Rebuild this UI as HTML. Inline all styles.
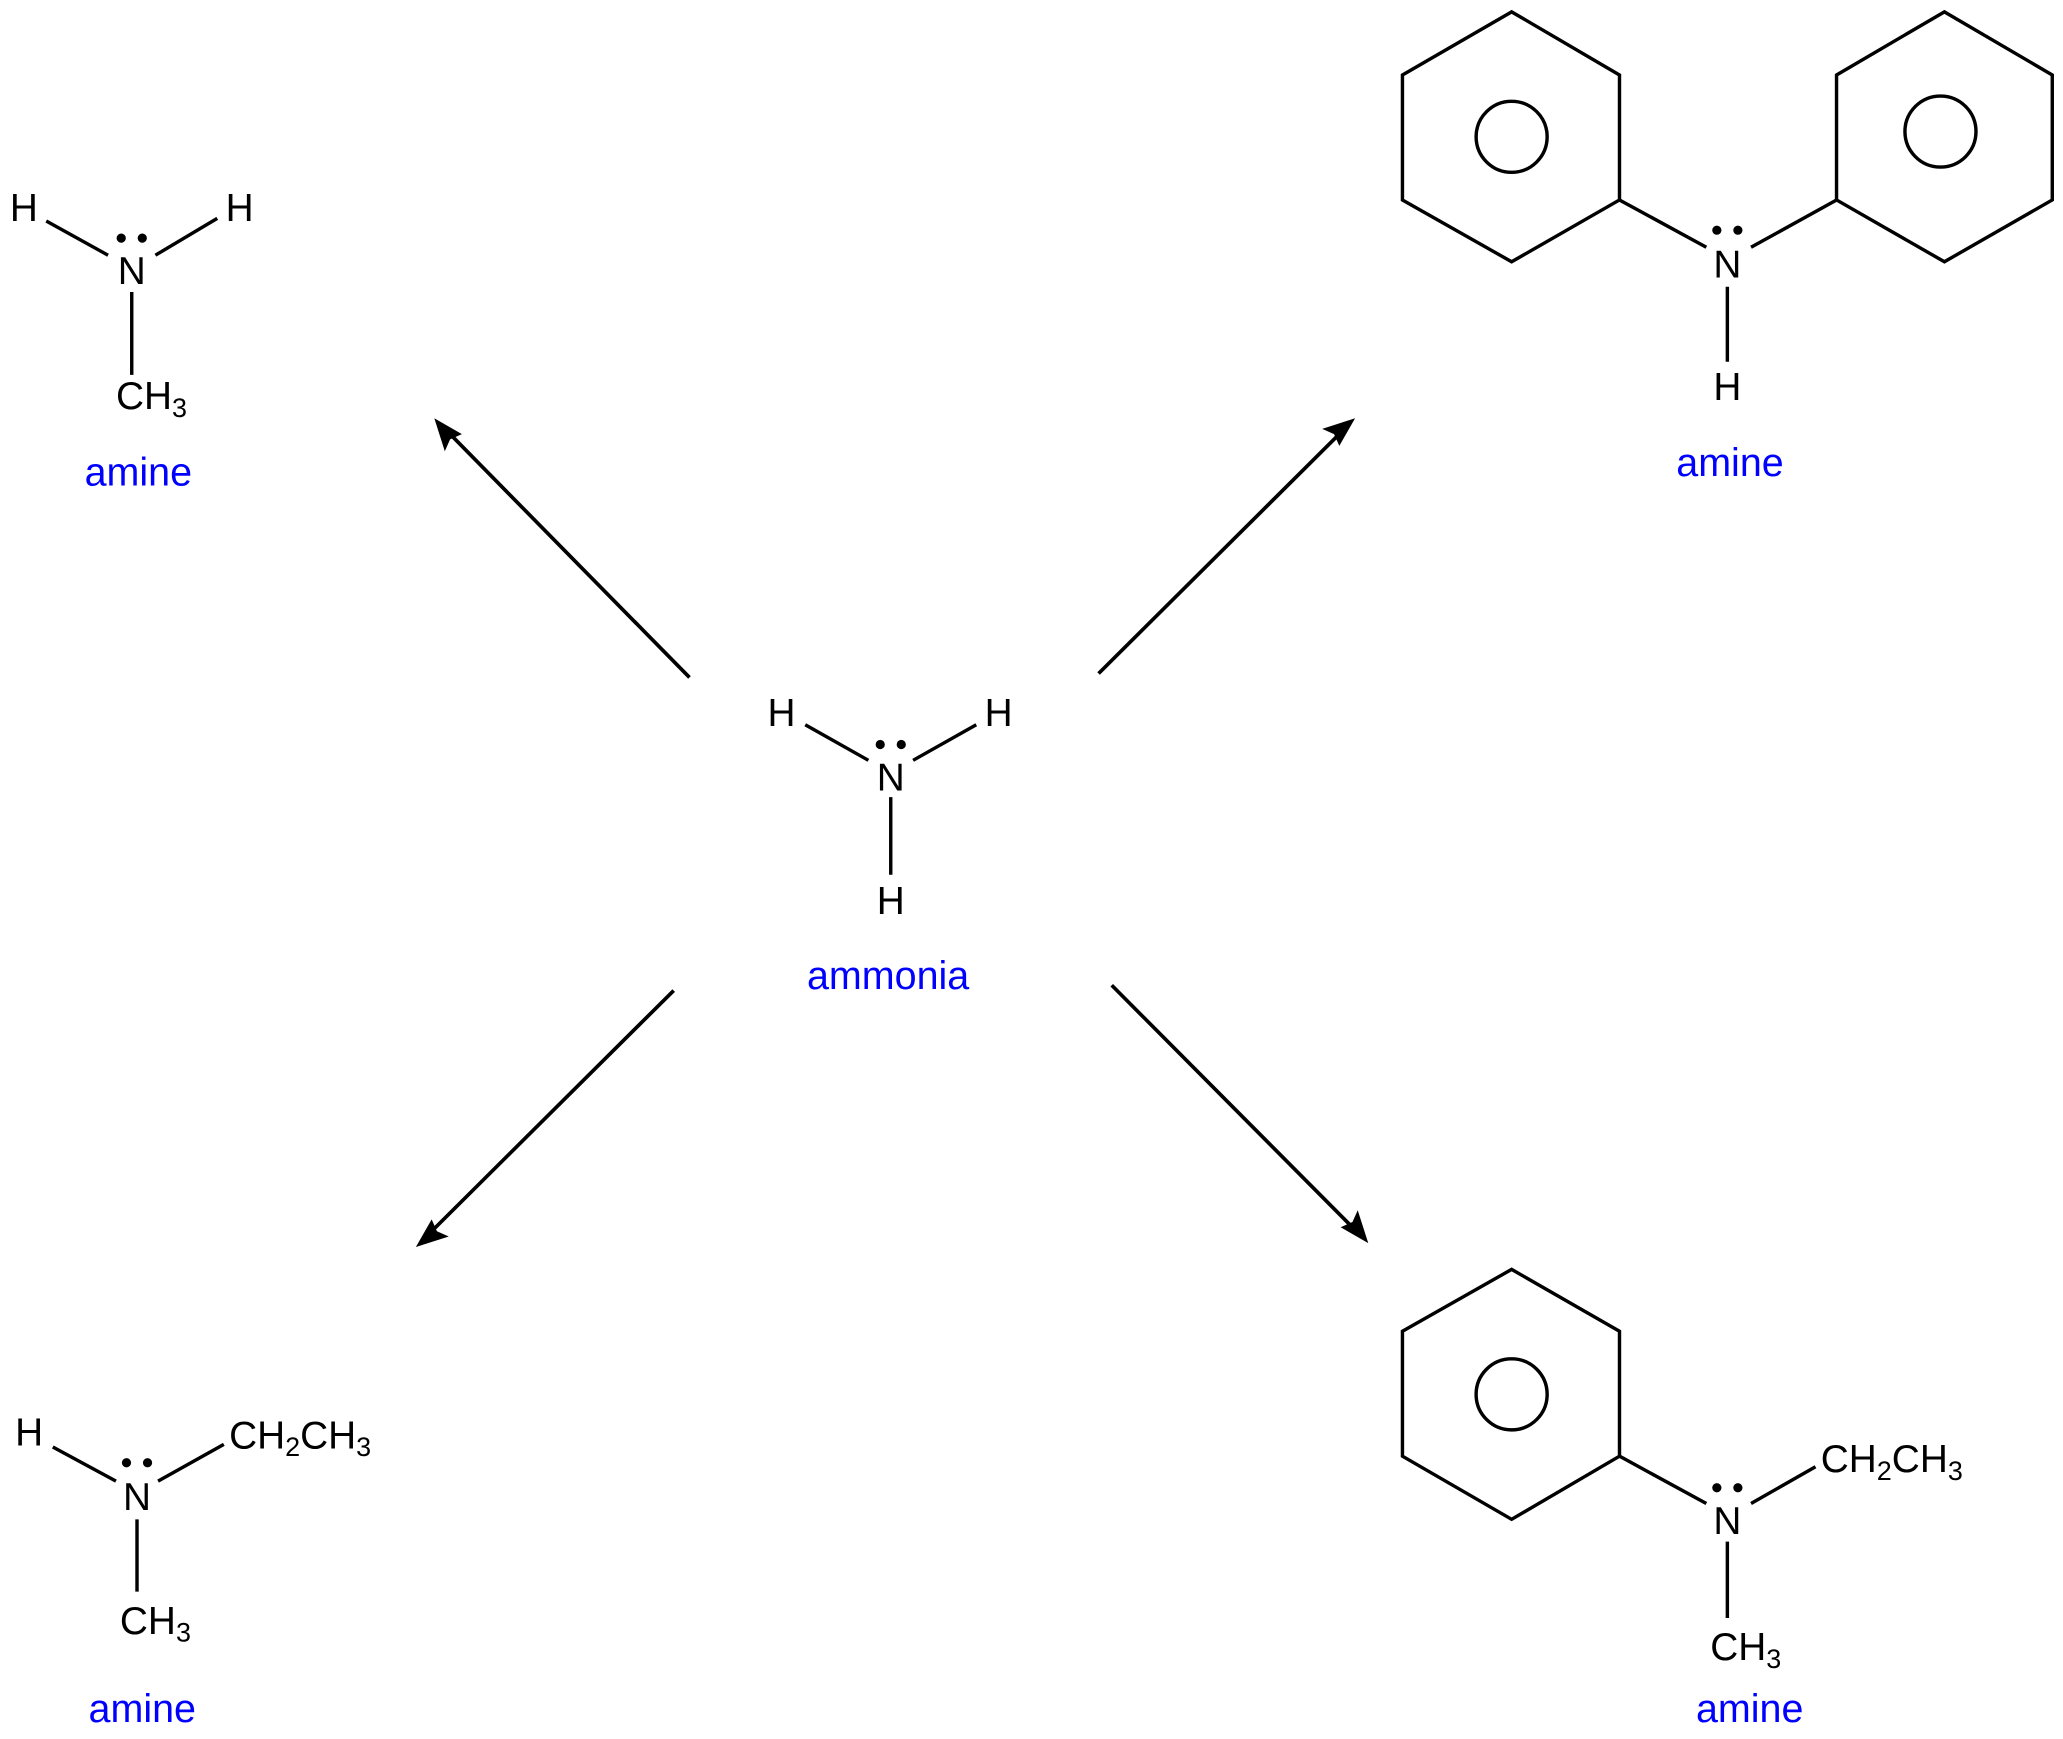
<!DOCTYPE html>
<html><head><meta charset="utf-8"><style>html,body{margin:0;padding:0;background:#fff}svg{display:block}</style></head>
<body>
<svg width="2063" height="1739" viewBox="0 0 1568 1322" xmlns="http://www.w3.org/2000/svg" font-family="Liberation Sans, Arial, sans-serif">
<g stroke="#000" stroke-width="2.6" fill="none">
<line x1="35" y1="168" x2="82" y2="194"/><line x1="118" y1="194" x2="165" y2="166"/><line x1="100" y1="222" x2="100" y2="285"/>
<line x1="612" y1="551" x2="660" y2="578"/><line x1="694" y1="578" x2="742" y2="551"/><line x1="677" y1="606" x2="677" y2="665"/>
<g stroke-width="2.8">
<line x1="524" y1="515" x2="342" y2="330"/><line x1="835" y1="512" x2="1018" y2="330"/>
<line x1="512" y1="753" x2="328" y2="936"/><line x1="845" y1="749" x2="1028" y2="933"/></g>
<polygon points="1149,9 1231,57 1231,152 1149,199 1066,152 1066,57"/><circle cx="1149" cy="104" r="27"/>
<polygon points="1478,9 1560,57 1560,152 1478,199 1396,152 1396,57"/><circle cx="1475" cy="100" r="27"/>
<line x1="1231" y1="152" x2="1297" y2="188"/><line x1="1331" y1="188" x2="1396" y2="152"/><line x1="1313" y1="218" x2="1313" y2="275"/>
<line x1="40" y1="1100" x2="88" y2="1126"/><line x1="120" y1="1126" x2="170" y2="1098"/><line x1="104" y1="1155" x2="104" y2="1210"/>
<polygon points="1149,965 1231,1012 1231,1107 1149,1155 1066,1107 1066,1012"/><circle cx="1149" cy="1060" r="27"/>
<line x1="1231" y1="1107" x2="1297" y2="1143"/><line x1="1331" y1="1143" x2="1380" y2="1115"/><line x1="1313" y1="1172" x2="1313" y2="1230"/>
</g>
<g fill="#000">
<path d="M330,318 L351,330 L342,334 L338,343 Z"/>
<path d="M1030,318 L1018,339 L1014,330 L1005,326 Z"/>
<path d="M316,948 L328,927 L332,936 L341,940 Z"/>
<path d="M1040,945 L1019,933 L1028,929 L1032,920 Z"/>
<circle cx="92" cy="181" r="3.5"/><circle cx="108" cy="181" r="3.5"/>
<circle cx="669" cy="566" r="3.5"/><circle cx="685" cy="566" r="3.5"/>
<circle cx="1305" cy="175" r="3.5"/><circle cx="1321" cy="175" r="3.5"/>
<circle cx="96" cy="1112" r="3.5"/><circle cx="112" cy="1112" r="3.5"/>
<circle cx="1305" cy="1131" r="3.5"/><circle cx="1321" cy="1131" r="3.5"/>
</g>
<g font-size="29.5" fill="#000" text-anchor="middle">
<text x="18" y="168">H</text><text x="182" y="168">H</text><text x="100" y="216">N</text>
<text x="88" y="311" text-anchor="start">CH<tspan font-size="20.5" dy="6">3</tspan></text>
<text x="594" y="552">H</text><text x="759" y="552">H</text><text x="677" y="601">N</text><text x="677" y="695">H</text>
<text x="1313" y="211">N</text><text x="1313" y="304">H</text>
<text x="22" y="1099">H</text><text x="104" y="1148">N</text>
<text x="174" y="1101" text-anchor="start">CH<tspan font-size="20.5" dy="6">2</tspan><tspan dy="-6">CH</tspan><tspan font-size="20.5" dy="6">3</tspan></text>
<text x="91" y="1242" text-anchor="start">CH<tspan font-size="20.5" dy="6">3</tspan></text>
<text x="1313" y="1166">N</text>
<text x="1384" y="1119" text-anchor="start">CH<tspan font-size="20.5" dy="6">2</tspan><tspan dy="-6">CH</tspan><tspan font-size="20.5" dy="6">3</tspan></text>
<text x="1300" y="1262" text-anchor="start">CH<tspan font-size="20.5" dy="6">3</tspan></text>
</g>
<g font-size="30" fill="#0000ff" text-anchor="middle">
<text x="105" y="369">amine</text><text x="675" y="752">ammonia</text><text x="1315" y="362">amine</text>
<text x="108" y="1309">amine</text><text x="1330" y="1309">amine</text>
</g>
</svg>
</body></html>
